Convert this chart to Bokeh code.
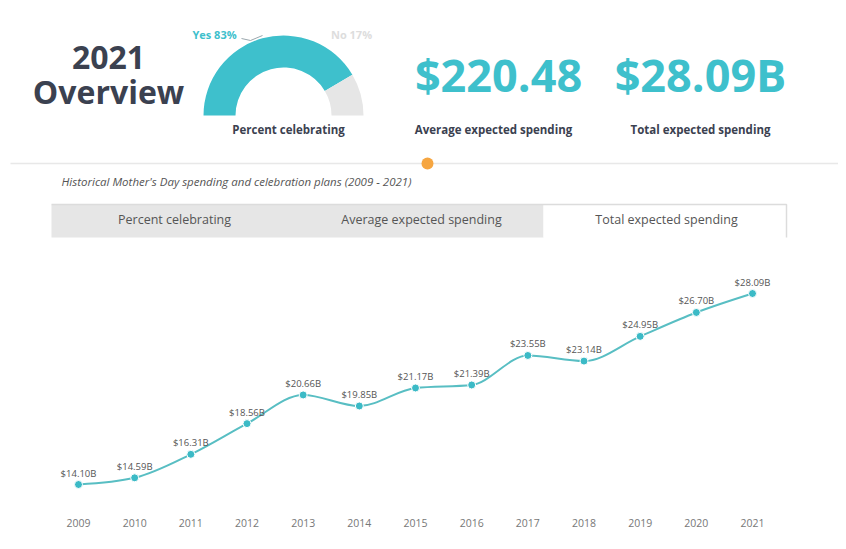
import math
from bokeh.plotting import figure
from bokeh.models import Range1d
from bokeh.core.properties import value
from bokeh.embed import file_html
from bokeh.resources import INLINE

# ---------------- data ----------------
years = [2009, 2010, 2011, 2012, 2013, 2014, 2015, 2016, 2017, 2018, 2019, 2020, 2021]
total_spending_b = [14.10, 14.59, 16.31, 18.56, 20.66, 19.85, 21.17, 21.39, 23.55, 23.14, 24.95, 26.70, 28.09]
year_labels = [str(y) for y in years]
pct_yes = 83
pct_no = 17
avg_spending_2021 = 220.48
total_spending_2021_b = 28.09
tab_labels = ["Percent celebrating", "Average expected spending", "Total expected spending"]
kpi_labels = ["Percent celebrating", "Average expected spending", "Total expected spending"]

# ---------------- styles ----------------
TEAL = "#3ec0cc"
LINE = "#58bec3"
DARK = "#3b4150"
GREY_TXT = "#555555"
FONT = value("Open Sans")

W, H = 838, 541


def Y(page_y):
    return H - page_y


def X(page_x):
    return page_x


p = figure(width=W, height=H, x_range=Range1d(0, W), y_range=Range1d(0, H),
           output_backend="svg", toolbar_location=None, min_border=0,
           x_axis_location=None, y_axis_location=None)
p.grid.visible = False
p.outline_line_color = None
p.background_fill_color = "white"
p.border_fill_color = "white"

# extra ranges for the line chart (2009 at x=78, 2021 at x=752; 14.10 at y=484, 28.09 at y=293)
px_per_year = (752 - 78) / 12.0
p.extra_x_ranges = {"yr": Range1d(2009 - 78 / px_per_year, 2021 + (W - 752) / px_per_year)}
b_lo, b_hi = H - 484, H - 293
px_per_b = (b_hi - b_lo) / (28.09 - 14.10)
p.extra_y_ranges = {"val": Range1d(14.10 - b_lo / px_per_b, 28.09 + (H - b_hi) / px_per_b)}

# ---------------- header ----------------
p.text(x=[X(108)], y=[Y(57)], text=["2021"], text_font=FONT, text_font_style="bold",
       text_font_size="32px", text_color=DARK, text_align="center", text_baseline="middle")
p.text(x=[X(108)], y=[Y(91)], text=["Overview"], text_font=FONT, text_font_style="bold",
       text_font_size="32px", text_color=DARK, text_align="center", text_baseline="middle")

# gauge
cx, cy = X(283), Y(115)
yes_frac = pct_yes / 100.0
p.annular_wedge(x=[cx], y=[cy], inner_radius=48, outer_radius=80,
                inner_radius_units="screen", outer_radius_units="screen",
                start_angle=[math.pi * (1 - yes_frac)], end_angle=[math.pi],
                fill_color=TEAL, line_color=None)
p.annular_wedge(x=[cx], y=[cy], inner_radius=48, outer_radius=80,
                inner_radius_units="screen", outer_radius_units="screen",
                start_angle=[0], end_angle=[math.pi * (1 - yes_frac)],
                fill_color="#e6e6e6", line_color=None)
p.line(x=[X(241), X(250), X(262)], y=[Y(38), Y(40), Y(35)], line_color="#9aa7ad", line_width=1)
p.text(x=[X(214)], y=[Y(34)], text=[f"Yes {pct_yes}%"], text_font=FONT, text_font_style="bold",
       text_font_size="11px", text_color=TEAL, text_align="center", text_baseline="middle")
p.text(x=[X(351)], y=[Y(34)], text=[f"No {pct_no}%"], text_font=FONT, text_font_style="bold",
       text_font_size="11px", text_color="#dddddd", text_align="center", text_baseline="middle")

# KPIs
p.text(x=[X(498), X(700)], y=[Y(74), Y(74)],
       text=[f"${avg_spending_2021:.2f}", f"${total_spending_2021_b:.2f}B"],
       text_font=FONT, text_font_style="bold", text_font_size="45px", text_color=TEAL,
       text_align="center", text_baseline="middle")
p.text(x=[X(288), X(493), X(700)], y=[Y(129)] * 3, text=kpi_labels,
       text_font=FONT, text_font_style="bold", text_font_size="11.5px", text_color=DARK,
       text_align="center", text_baseline="middle")

# divider + dot
p.line(x=[X(10), X(838)], y=[Y(163), Y(163)], line_color="#e8e8e8", line_width=1.5)
p.scatter(x=[X(427)], y=[Y(163)], size=12, fill_color="#f6a641", line_color=None)

p.text(x=[X(61)], y=[Y(181)],
       text=["Historical Mother's Day spending and celebration plans (2009 - 2021)"],
       text_font=FONT, text_font_style="italic", text_font_size="11.5px", text_color=GREY_TXT,
       text_align="left", text_baseline="middle")

# tabs
p.quad(left=[X(51)], right=[X(543)], top=[Y(204)], bottom=[Y(237)],
       fill_color="#e6e6e6", line_color=None)
p.quad(left=[X(543)], right=[X(786)], top=[Y(204)], bottom=[Y(237)],
       fill_color="white", line_color=None)
p.line(x=[X(51), X(786), X(786)], y=[Y(204), Y(204), Y(237)], line_color="#dcdcdc", line_width=1.5)
p.text(x=[X(174), X(421), X(666)], y=[Y(219)] * 3, text=tab_labels,
       text_font=FONT, text_font_size="12.5px", text_color=GREY_TXT,
       text_align="center", text_baseline="middle")

# ---------------- line chart (monotone cubic through the data) ----------------
n = len(years)
xs = [float(v) for v in years]
ys = total_spending_b
h = [xs[i + 1] - xs[i] for i in range(n - 1)]
s = [(ys[i + 1] - ys[i]) / h[i] for i in range(n - 1)]


def sgn(v):
    return (v > 0) - (v < 0)


t = [0.0] * n
for i in range(1, n - 1):
    pp = (s[i - 1] * h[i] + s[i] * h[i - 1]) / (h[i - 1] + h[i])
    t[i] = (sgn(s[i - 1]) + sgn(s[i])) * min(abs(s[i - 1]), abs(s[i]), 0.5 * abs(pp))
t[0] = (3 * s[0] - t[1]) / 2
t[-1] = (3 * s[-1] - t[-2]) / 2

x0 = xs[:-1]; x1 = xs[1:]
y0 = ys[:-1]; y1 = ys[1:]
cx0 = [xs[i] + h[i] / 3 for i in range(n - 1)]
cy0 = [ys[i] + t[i] * h[i] / 3 for i in range(n - 1)]
cx1 = [xs[i + 1] - h[i] / 3 for i in range(n - 1)]
cy1 = [ys[i + 1] - t[i + 1] * h[i] / 3 for i in range(n - 1)]

p.bezier(x0=x0, y0=y0, x1=x1, y1=y1, cx0=cx0, cy0=cy0, cx1=cx1, cy1=cy1,
         x_range_name="yr", y_range_name="val", line_color=LINE, line_width=2)
p.scatter(x=years, y=total_spending_b, size=8, fill_color="#3bbac6", line_color="white",
          line_width=1, x_range_name="yr", y_range_name="val")
p.text(x=years, y=total_spending_b, text=[f"${v:.2f}B" for v in total_spending_b],
       x_range_name="yr", y_range_name="val", y_offset=-5,
       text_font=FONT, text_font_size="9.5px", text_color=GREY_TXT,
       text_align="center", text_baseline="bottom")
p.text(x=years, y=[Y(522)] * n, text=year_labels, x_range_name="yr",
       text_font=FONT, text_font_size="10.5px", text_color="#777777",
       text_align="center", text_baseline="middle")

open("out.html", "w").write(file_html(p, INLINE))
